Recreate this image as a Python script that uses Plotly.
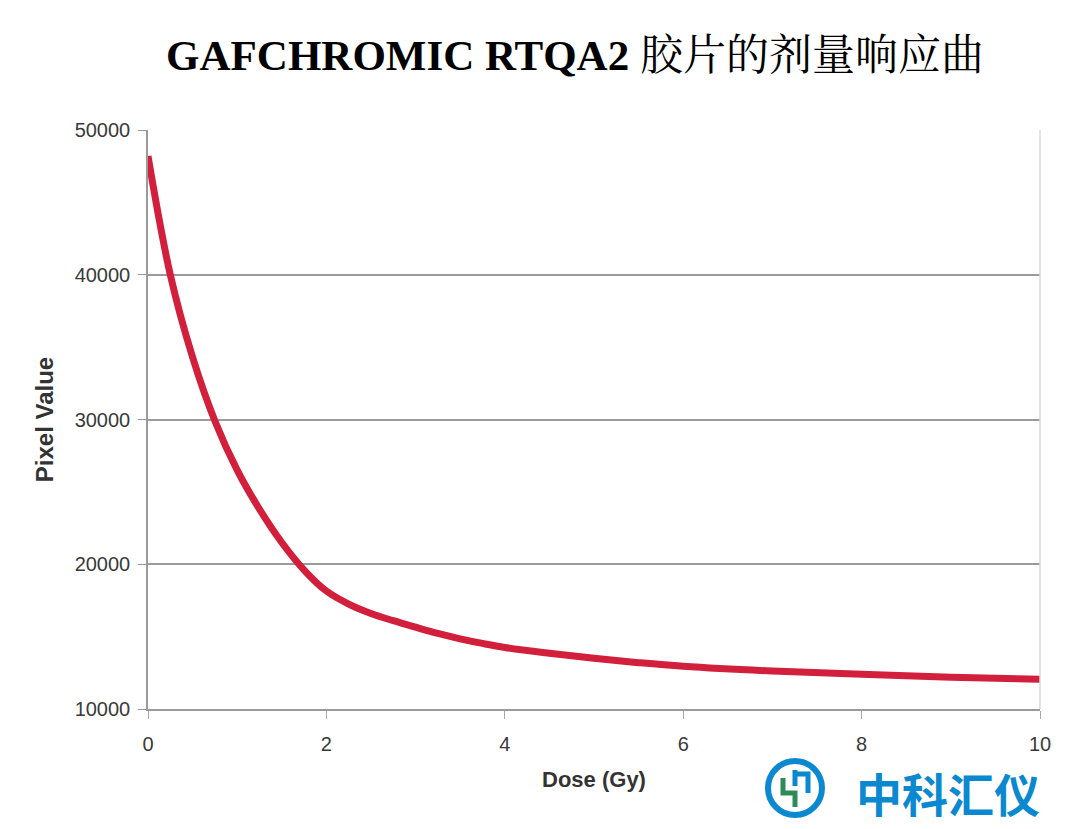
import plotly.graph_objects as go

dose_gy = [0, 0.25, 0.5, 0.75, 1.0, 1.25, 1.5, 1.75, 2.0, 2.25, 2.5, 2.75, 3.0, 3.25, 3.5, 3.75, 4.0, 4.5, 5.0, 5.5, 6.0, 7.0, 8.0, 9.0, 10.0]
pixel_value = [48200, 40000, 34300, 29900, 26500, 23800, 21500, 19600, 18150, 17250, 16600, 16100, 15650, 15220, 14850, 14530, 14250, 13850, 13500, 13200, 12950, 12620, 12400, 12200, 12050]

x_ticks = [0, 2, 4, 6, 8, 10]
y_ticks = [10000, 20000, 30000, 40000, 50000]

title_latin = "GAFCHROMIC RTQA2"
title_cjk = "胶片的剂量响应曲"
x_title = "Dose (Gy)"
y_title = "Pixel Value"
watermark = "中科汇仪"

fig = go.Figure()
fig.add_trace(go.Scatter(
    x=dose_gy, y=pixel_value, mode="lines",
    line=dict(color="#D21F3C", width=7, shape="spline", smoothing=1.0),
    showlegend=False, hoverinfo="skip",
))

tick_font = dict(family="Liberation Sans, Arial, sans-serif", size=20, color="#3a3a3a")
xt_font = dict(family="Liberation Sans, Arial, sans-serif", size=22, color="#333333")
yt_font = dict(family="Liberation Sans, Arial, sans-serif", size=24, color="#333333")

W, H = 1072, 821  # page body has an 8px margin
L, R, T, B = 140, 40, 122, 120
pw, ph = W - L - R, H - T - B

fig.update_layout(
    width=W, height=H,
    paper_bgcolor="white", plot_bgcolor="white",
    margin=dict(l=L, r=R, t=T, b=B, autoexpand=False),
    title=dict(
        text=f"<b>{title_latin}</b> {title_cjk}",
        x=(575 - 8) / W, xanchor="center", y=1 - (55 - 8) / H, yanchor="middle",
        font=dict(family="Liberation Serif, 'Noto Serif CJK SC', 'Noto Sans CJK SC', serif", size=43, color="black"),
    ),
    xaxis=dict(
        range=[0, 10], tickvals=x_ticks, ticktext=[str(v) for v in x_ticks],
        showgrid=False, zeroline=False,
        showline=True, linecolor="#9a9a9a", linewidth=2, mirror=False,
        ticks="outside", ticklen=8, tickcolor="#aaaaaa", tickwidth=1,
        tickfont=tick_font, automargin=False, ticklabelstandoff=8,
        title=dict(text=f"<b>{x_title}</b>", font=xt_font, standoff=18),
    ),
    yaxis=dict(
        range=[10000, 50000], tickvals=y_ticks, ticktext=[str(v) for v in y_ticks],
        showgrid=True, gridcolor="#9a9a9a", gridwidth=1.5, zeroline=False,
        showline=True, linecolor="#9a9a9a", linewidth=1.5,
        ticks="outside", ticklen=8, tickcolor="#9a9a9a", tickwidth=1,
        tickfont=tick_font, automargin=False, ticklabelstandoff=4,
        title=dict(text=f"<b>{y_title}</b>", font=yt_font, standoff=14),
    ),
)

# light right border of the plot area
fig.add_shape(type="line", xref="paper", yref="paper", x0=1, x1=1, y0=0, y1=1,
              line=dict(color="#d8d8d8", width=1.5))

def px_x(x):
    return (x - 8 - L) / pw

def px_y(y):
    return (T + ph - (y - 8)) / ph

# watermark logo
fig.add_shape(type="circle", xref="paper", yref="paper",
              x0=px_x(768), x1=px_x(822), y0=px_y(815), y1=px_y(761),
              line=dict(color="#0a88d0", width=6), fillcolor="white")
fig.add_shape(type="path", xref="paper", yref="paper",
              path=f"M {px_x(783)} {px_y(778)} L {px_x(783)} {px_y(793)} L {px_x(795)} {px_y(793)} L {px_x(795)} {px_y(807)}",
              line=dict(color="#2e8b57", width=5))
fig.add_shape(type="path", xref="paper", yref="paper",
              path=f"M {px_x(795)} {px_y(770)} L {px_x(795)} {px_y(786)} M {px_x(795)} {px_y(774)} L {px_x(808)} {px_y(774)} L {px_x(808)} {px_y(793)}",
              line=dict(color="#0a88d0", width=5))
fig.add_annotation(text=f"<b>{watermark}</b>", xref="paper", yref="paper",
                   x=px_x(948), y=px_y(792), showarrow=False,
                   xanchor="center", yanchor="middle",
                   font=dict(family="Noto Sans CJK SC", size=46, color="#0a88d0"))

fig.write_html("out.html")
